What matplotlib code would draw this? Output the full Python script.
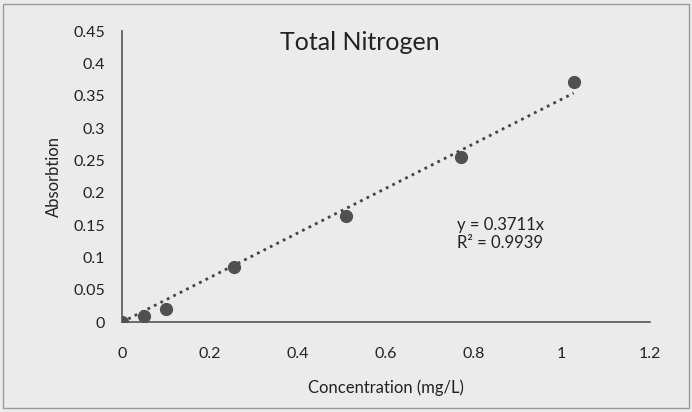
import matplotlib
matplotlib.use("Agg")
import matplotlib.pyplot as plt
import numpy as np

plt.rcParams['font.family'] = ['Lato', 'DejaVu Sans']

conc = [0.0, 0.05, 0.1, 0.255, 0.51, 0.77, 1.027]
absorb = [0.0, 0.009, 0.02, 0.085, 0.164, 0.255, 0.371]
eq_label = 'y = 0.3711x\nR² = 0.9939'
xticks = [0, 0.2, 0.4, 0.6, 0.8, 1, 1.2]
xticklabels = ['0', '0.2', '0.4', '0.6', '0.8', '1', '1.2']
yticks = [0, 0.05, 0.1, 0.15, 0.2, 0.25, 0.3, 0.35, 0.4, 0.45]
yticklabels = ['0', '0.05', '0.1', '0.15', '0.2', '0.25', '0.3', '0.35', '0.4', '0.45']

bg = '#ebebeb'
fig = plt.figure(figsize=(6.92, 4.12), dpi=100, facecolor=bg)
ax = fig.add_axes([0.176, 0.218, 0.763, 0.706], facecolor=bg)

x = np.array(conc)
y = np.array(absorb)
slope_fit = (x * y).sum() / (x * x).sum()
xl = np.array([0, x.max()])
ax.plot(xl, slope_fit * xl, linestyle=(0, (1, 1.6)), color='#444444', lw=2.0, zorder=2)
ax.plot(conc, absorb, 'o', color='#505050', markersize=8.5, zorder=3)

ax.set_xlim(0, 1.2)
ax.set_ylim(0, 0.45)
ax.set_xticks(xticks)
ax.set_xticklabels(xticklabels)
ax.set_yticks(yticks)
ax.set_yticklabels(yticklabels)
ax.tick_params(axis='x', length=0, labelsize=11.5, colors='#222222', pad=18)
ax.tick_params(axis='y', length=0, labelsize=11.5, colors='#222222', pad=12)
for s in ['top', 'right']:
    ax.spines[s].set_visible(False)
for s in ['left', 'bottom']:
    ax.spines[s].set_color('#555555')
    ax.spines[s].set_linewidth(1.2)

fig.text(360 / 692, 1 - 42 / 412, 'Total Nitrogen', fontsize=18, color='#222222',
         ha='center', va='center')
ax.set_xlabel('Concentration (mg/L)', fontsize=12, color='#222222', labelpad=13)
ax.set_ylabel('Absorbtion', fontsize=12, color='#222222', labelpad=8)
ax.text(0.634, 0.362, eq_label, transform=ax.transAxes,
        fontsize=12, color='#222222', va='top', ha='left', linespacing=1.2)

fig.patches.append(plt.Rectangle((0.005, 0.01), 0.99, 0.98, transform=fig.transFigure,
                                 fill=False, edgecolor='#9a9a9a', lw=1.0))
fig.savefig('out.png', dpi=100, facecolor=bg)
